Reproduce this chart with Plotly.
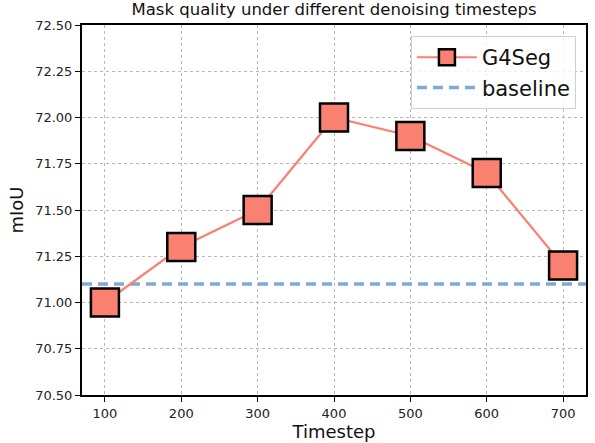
import plotly.graph_objects as go

timesteps = [100, 200, 300, 400, 500, 600, 700]
miou = [71.0, 71.3, 71.5, 72.0, 71.9, 71.7, 71.2]
baseline_value = 71.1
y_ticks = [70.50, 70.75, 71.00, 71.25, 71.50, 71.75, 72.00, 72.25, 72.50]

fig = go.Figure()
fig.add_trace(go.Scatter(
    x=[70, 730], y=[baseline_value, baseline_value], mode="lines",
    line=dict(color="rgba(115,160,205,0.9)", width=3.5, dash="10px,6px"),
    name="baseline", showlegend=False))
fig.add_trace(go.Scatter(
    x=timesteps, y=miou, mode="lines+markers", name="G4Seg",
    line=dict(color="#FA8072", width=2.2),
    marker=dict(symbol="square", size=28, color="#FA8072",
                line=dict(color="black", width=2.5))))
fig.add_trace(go.Scatter(
    x=[None], y=[None], mode="lines", name="baseline",
    line=dict(color="rgba(115,160,205,0.9)", width=3.5, dash="10px,6px")))

axis_common = dict(
    showline=True, linecolor="black", linewidth=2, mirror=True,
    ticks="outside", ticklen=5, tickwidth=1.2, tickcolor="black",
    showgrid=True, gridcolor="#b8b8b8", griddash="dot", gridwidth=1,
    zeroline=False, tickfont=dict(size=13, color="#222"),
)
fig.update_xaxes(range=[70, 730], tickvals=timesteps,
                 title=dict(text="Timestep", font=dict(size=18, color="#111"), standoff=3),
                 **axis_common)
fig.update_yaxes(range=[70.5, 72.5], tickvals=y_ticks,
                 ticktext=[f"{v:.2f}" for v in y_ticks],
                 title=dict(text="mIoU", font=dict(size=18, color="#111"), standoff=7),
                 **axis_common)

fig.update_layout(
    width=595, height=443,
    margin=dict(l=82, r=7, t=25, b=47),
    paper_bgcolor="white", plot_bgcolor="white",
    font=dict(family="DejaVu Sans", color="#111"),
    title=dict(text="Mask quality under different denoising timesteps",
               font=dict(size=16.5, color="#111"), x=0.5, xanchor="center",
               xref="paper", y=0.993, yanchor="top"),
    legend=dict(x=0.98, y=0.97, xanchor="right", yanchor="top",
                bgcolor="rgba(255,255,255,0.8)", bordercolor="#d0d0d0", borderwidth=1,
                font=dict(size=21), itemwidth=60),
)

fig.write_html("out.html", config={"displayModeBar": False},
               post_script="document.body.style.margin='0';")
